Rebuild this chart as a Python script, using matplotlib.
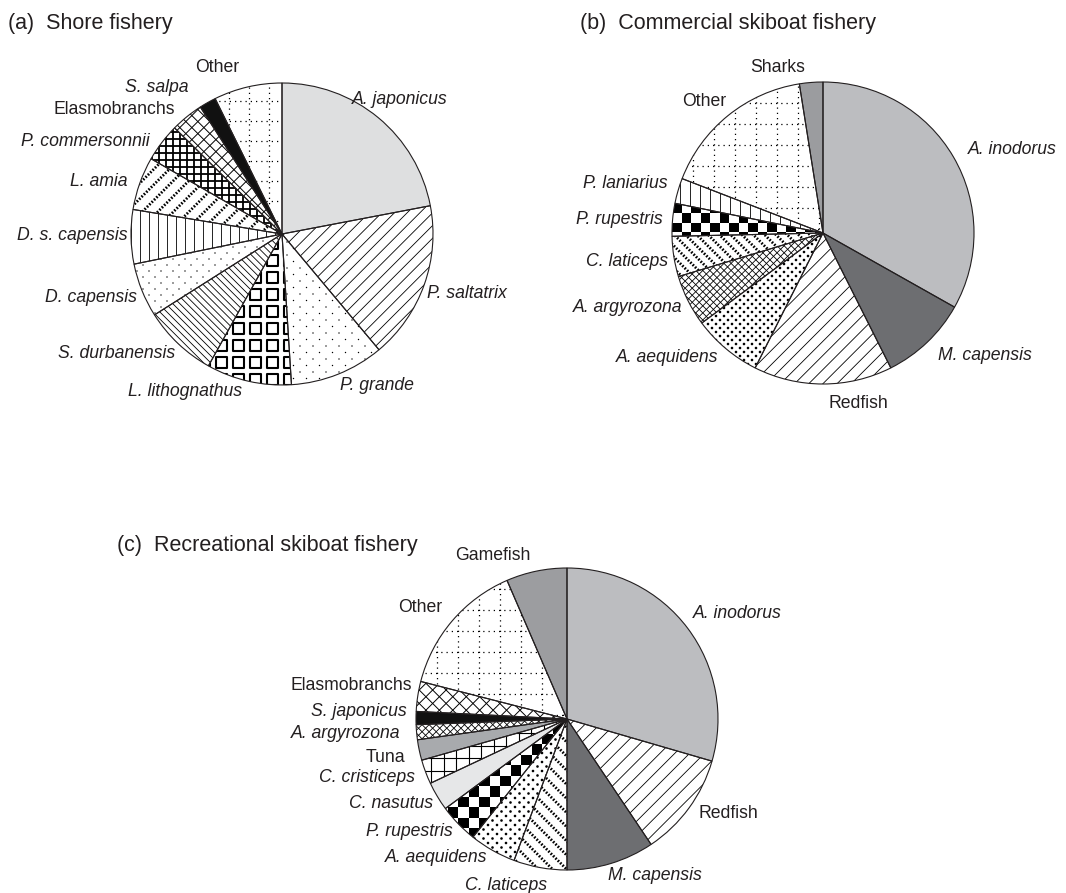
import numpy as np
import matplotlib
matplotlib.use("Agg")
import matplotlib.pyplot as plt
from matplotlib.collections import LineCollection, PatchCollection
from matplotlib.patches import Rectangle, Circle, Wedge

plt.rcParams['font.family'] = ['Liberation Sans', 'DejaVu Sans']

W, H = 1066, 893

# catch composition (% of total) per fishery
shore_species = ["A. japonicus", "P. saltatrix", "P. grande", "L. lithognathus",
                 "S. durbanensis", "D. capensis", "D. s. capensis", "L. amia",
                 "P. commersonnii", "Elasmobranchs", "S. salpa", "Other"]
shore_pct = [22.0, 16.9, 10.1, 9.1, 7.9, 5.8, 5.8, 5.7, 4.1, 3.5, 1.8, 7.3]

commercial_species = ["A. inodorus", "M. capensis", "Redfish", "A. aequidens",
                      "A. argyrozona", "C. laticeps", "P. rupestris", "P. laniarius",
                      "Other", "Sharks"]
commercial_pct = [33.1, 9.4, 14.8, 7.4, 5.5, 4.3, 3.5, 2.7, 16.6, 2.5]

recreational_species = ["A. inodorus", "Redfish", "M. capensis", "C. laticeps",
                        "A. aequidens", "P. rupestris", "C. nasutus", "C. cristiceps",
                        "Tuna", "A. argyrozona", "S. japonicus", "Elasmobranchs",
                        "Other", "Gamefish"]
recreational_pct = [29.5, 11.1, 9.4, 5.7, 5.0, 4.2, 3.1, 2.6, 2.2, 1.6, 1.4, 3.2, 14.5, 6.5]

# fill style of each wedge: a grey level or a pattern name with its size in px
shore_fill = [("solid", "#dedfe0"), ("lines", 45, 9.0), ("dots", 13, 0.7),
              ("squares", 17, 11), ("lines", -45, 5.0), ("dots", 12, 0.7),
              ("lines", 90, 9.0), ("beads", 45, 11), ("grid", 7, 1.3),
              ("cross", 8.5, 0.7), ("solid", "#111111"), ("dotgrid", 20)]
commercial_fill = [("solid", "#bcbdc0"), ("solid", "#6d6e71"), ("lines", 45, 10.0),
                   ("dots", 8, 1.3), ("cross", 5.0, 0.6), ("beads", -45, 8),
                   ("checker", 9.5), ("lines", 90, 10.0), ("dotgrid", 21),
                   ("solid", "#9b9c9f")]
recreational_fill = [("solid", "#bcbdc0"), ("lines", 45, 10.5), ("solid", "#6d6e71"),
                     ("beads", -45, 10), ("dots", 9, 1.3), ("checker", 10.5),
                     ("solid", "#e6e7e8"), ("grid", 12.5, 0.8), ("solid", "#a8aaad"),
                     ("cross", 5.0, 0.6), ("solid", "#111111"), ("cross", 9.5, 0.7),
                     ("dotgrid", 21), ("solid", "#9c9da0")]

# layout: pie centres in image pixels, label anchors (x, y, ha)
R = 151
panels = [
    dict(title="(a)  Shore fishery", tpos=(8, 23), center=(282, 234),
         names=shore_species, pct=shore_pct, fill=shore_fill,
         lab=[(352, 100, 'left'), (427, 293, 'left'), (340, 386, 'left'),
              (128, 392, 'left'), (175, 353, 'right'), (137, 297, 'right'),
              (128, 236, 'right'), (128, 181, 'right'), (150, 142, 'right'),
              (175, 110, 'right'), (125, 87, 'left'), (195, 68, 'left')]),
    dict(title="(b)  Commercial skiboat fishery", tpos=(580, 23), center=(823, 233),
         names=commercial_species, pct=commercial_pct, fill=commercial_fill,
         lab=[(968, 150, 'left'), (938, 355, 'left'), (829, 403, 'left'),
              (718, 358, 'right'), (682, 308, 'right'), (668, 262, 'right'),
              (663, 220, 'right'), (668, 184, 'right'), (682, 102, 'left'),
              (750, 67, 'left')]),
    dict(title="(c)  Recreational skiboat fishery", tpos=(117, 545), center=(567, 719),
         names=recreational_species, pct=recreational_pct, fill=recreational_fill,
         lab=[(693, 613, 'left'), (698, 813, 'left'), (608, 875, 'left'),
              (465, 886, 'left'), (487, 858, 'right'), (453, 832, 'right'),
              (433, 803, 'right'), (415, 777, 'right'), (405, 757, 'right'),
              (400, 733, 'right'), (407, 712, 'right'), (412, 685, 'right'),
              (442, 608, 'right'), (455, 555, 'left')]),
]

TXT = '#231f20'


def line_set(c, r, angle, step):
    th = np.deg2rad(angle)
    d = np.array([np.cos(th), np.sin(th)])
    n = np.array([-np.sin(th), np.cos(th)])
    segs = []
    for k in np.arange(-1.5 * r, 1.5 * r, step):
        p = np.asarray(c) + n * k
        segs.append([p - d * 1.5 * r, p + d * 1.5 * r])
    return segs


def add_pattern(ax, w, spec):
    c, r = w.center, w.r
    kind = spec[0]
    arts = []
    if kind == "lines":
        arts.append(LineCollection(line_set(c, r, spec[1], spec[2]),
                                   colors='black', linewidths=0.6))
    elif kind == "cross":
        segs = line_set(c, r, 45, spec[1]) + line_set(c, r, -45, spec[1])
        arts.append(LineCollection(segs, colors='black', linewidths=spec[2]))
    elif kind == "grid":
        segs = line_set(c, r, 0, spec[1]) + line_set(c, r, 90, spec[1])
        arts.append(LineCollection(segs, colors='black', linewidths=spec[2]))
    elif kind == "dotgrid":
        segs = line_set(c, r, 0, spec[1]) + line_set(c, r, 90, spec[1])
        arts.append(LineCollection(segs, colors='black', linewidths=0.9,
                                   linestyles=[(0, (1.0, 3.2))]))
    elif kind == "beads":
        arts.append(LineCollection(line_set(c, r, spec[1], spec[2]),
                                   colors='black', linewidths=2.0,
                                   linestyles=[(0, (0.6, 0.6))]))
    elif kind == "dots":
        p, rad = spec[1], spec[2]
        pts = []
        for j, y in enumerate(np.arange(c[1] - r, c[1] + r, p / 2)):
            off = (j % 2) * p / 2
            for x in np.arange(c[0] - r + off, c[0] + r, p):
                pts.append(Circle((x, y), rad))
        arts.append(PatchCollection(pts, facecolor='black', edgecolor='none'))
    elif kind == "squares":
        p, s = spec[1], spec[2]
        boxes = [Rectangle((x, y), s, s)
                 for x in np.arange(c[0] - r, c[0] + r, p)
                 for y in np.arange(c[1] - r, c[1] + r, p)]
        arts.append(PatchCollection(boxes, facecolor='none', edgecolor='black',
                                    linewidths=1.5))
    elif kind == "checker":
        p = spec[1]
        boxes = []
        for i, x in enumerate(np.arange(c[0] - r, c[0] + r, p)):
            for j, y in enumerate(np.arange(c[1] - r, c[1] + r, p)):
                if (i + j) % 2 == 0:
                    boxes.append(Rectangle((x, y), p, p))
        arts.append(PatchCollection(boxes, facecolor='black', edgecolor='none'))
    for a in arts:
        a.set_zorder(2)
        ax.add_collection(a)
        a.set_clip_path(w)


fig = plt.figure(figsize=(W / 100, H / 100), dpi=100)
ax = fig.add_axes([0, 0, 1, 1])

for pn in panels:
    cx, cy = pn["center"]
    faces = [f[1] if f[0] == "solid" else 'white' for f in pn["fill"]]
    wedges, _ = ax.pie(pn["pct"], colors=faces, startangle=90, counterclock=False,
                       center=(cx, H - cy), radius=R,
                       wedgeprops=dict(edgecolor='none', linewidth=0))
    for w, spec in zip(wedges, pn["fill"]):
        if spec[0] != "solid":
            add_pattern(ax, w, spec)
        ax.add_patch(Wedge(w.center, w.r, w.theta1, w.theta2, facecolor='none',
                           edgecolor='#231f20', linewidth=0.8, zorder=3))
    for name, (x, y, ha) in zip(pn["names"], pn["lab"]):
        style = 'italic' if '. ' in name else 'normal'
        ax.text(x, H - y, name, ha=ha, va='center', fontsize=12.7,
                style=style, color=TXT)
    tx, ty = pn["tpos"]
    ax.text(tx, H - ty, pn["title"], ha='left', va='center', fontsize=15.5, color=TXT)

ax.set_xlim(0, W)
ax.set_ylim(0, H)
ax.set_aspect('auto')
ax.axis('off')
fig.savefig("out.png", dpi=100)
